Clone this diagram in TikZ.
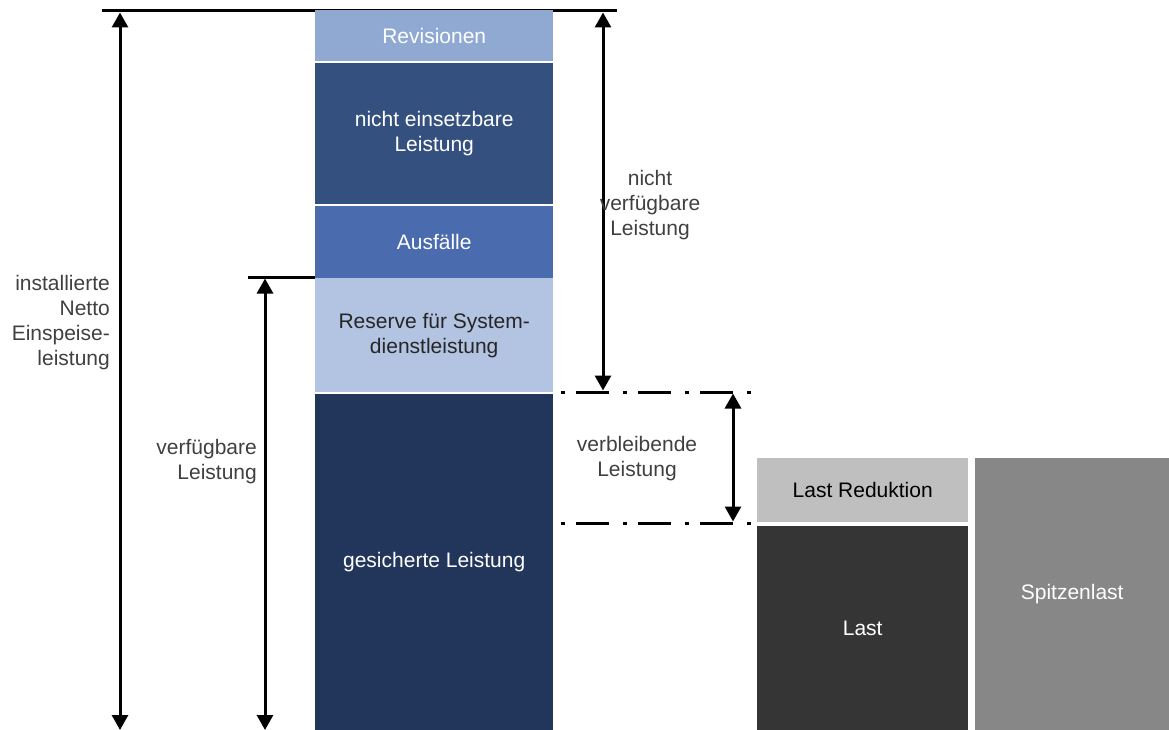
\documentclass[tikz,border=0pt]{standalone}
\usepackage{fontspec}
\setmainfont{Liberation Sans}
\usetikzlibrary{arrows.meta, positioning}

\definecolor{revblue}{HTML}{8FA9D3}
\definecolor{nebblue}{HTML}{34507F}
\definecolor{ausblue}{HTML}{4A6BAD}
\definecolor{resblue}{HTML}{B3C4E2}
\definecolor{gesblue}{HTML}{22355A}
\definecolor{redgray}{HTML}{BFBFBF}
\definecolor{lastgray}{HTML}{353535}
\definecolor{spitzgray}{HTML}{878787}

\begin{document}
\begin{tikzpicture}[
            x=1pt, y=-1pt,
            block/.style={rectangle, inner sep=0pt, anchor=north west, minimum width=238pt, align=center, text=white, font=\fontsize{21}{25}\selectfont},
            loadbox/.style={block, minimum width=211pt},
            note/.style={inner sep=0pt, font=\fontsize{21}{25}\selectfont, text=black!75},
            bar/.style={line width=3pt},
            dim/.style={line width=3pt, {Triangle[length=15pt, width=16pt]}-{Triangle[length=15pt, width=16pt]}},
            dashdot/.style={line width=3pt, dash pattern=on 4pt off 11pt on 33pt off 14pt}
        ]
            \useasboundingbox (0,0) rectangle (1169,730);

            % --- 1. Bezugslinien ---
            \coordinate (topL) at (102,11);
            \coordinate (topR) at (617,11);
            \coordinate (verfL) at (248,277);
            \coordinate (verfR) at (315,277);
            \draw[bar] (topL) -- (topR);
            \draw[bar] (verfL) -- (verfR);

            % --- 2. Leistungssäule ---
            \node[block, fill=revblue, minimum height=51pt] (rev) at (315,10) {Revisionen};
            \node[block, fill=nebblue, minimum height=141pt, below=1.5pt of rev] (neb) {nicht einsetzbare\\Leistung};
            \node[block, fill=ausblue, minimum height=72pt, below=1.5pt of neb] (aus) {Ausfälle};
            \node[block, fill=resblue, minimum height=114pt, below=0pt of aus, text=black!85] (res) {Reserve für System-\\dienstleistung};
            \node[block, fill=gesblue, minimum height=337pt, below=1pt of res] (ges) {gesicherte Leistung};

            % --- 3. Last ---
            \node[loadbox, fill=redgray, minimum height=64pt, text=black] (red) at (757,458) {Last Reduktion};
            \node[loadbox, fill=lastgray, minimum height=205pt, below=3pt of red] (last) {Last};
            \node[block, fill=spitzgray, minimum width=194pt, minimum height=272pt] (spitz) at (975,458) {Spitzenlast};

            % --- 4. Strichpunktlinien ---
            \coordinate (vbTopL) at (561,392);
            \coordinate (vbTopR) at (752,392);
            \coordinate (vbBotL) at (561,523);
            \coordinate (vbBotR) at (752,523);
            \draw[dashdot] (vbTopL) -- (vbTopR);
            \draw[dashdot] (vbBotL) -- (vbBotR);

            % --- 5. Maßpfeile ---
            \coordinate (instT) at (120,12.5);
            \coordinate (instB) at (120,730);
            \coordinate (verfT) at (265,278.5);
            \coordinate (verfB) at (265,730);
            \coordinate (nvT) at (603,12.5);
            \coordinate (nvB) at (603,390.5);
            \coordinate (vbT) at (733,393.5);
            \coordinate (vbB) at (733,521.5);
            \draw[dim] (instT) -- (instB);
            \draw[dim] (verfT) -- (verfB);
            \draw[dim] (nvT) -- (nvB);
            \draw[dim] (vbT) -- (vbB);

            % --- 6. Beschriftungen ---
            \node[note, anchor=east, align=right] (instlab) at (110,323) {installierte\\Netto\\Einspeise-\\leistung};
            \node[note, anchor=east, align=right] (verflab) at (257,462) {verfügbare\\Leistung};
            \node[note, align=center] (nvlab) at (650,205) {nicht\\verfügbare\\Leistung};
            \node[note, align=center] (vblab) at (637,459) {verbleibende\\Leistung};

        \end{tikzpicture}
\end{document}
